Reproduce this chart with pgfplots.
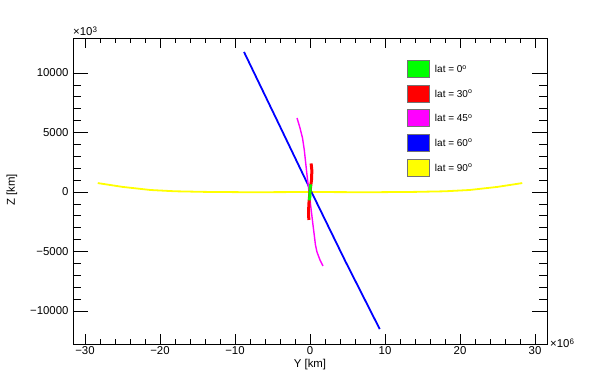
\documentclass[border=0pt]{standalone}
\usepackage{fontspec}
\setmainfont{Liberation Sans}
\usepackage{pgfplots}
\pgfplotsset{compat=1.18}
\definecolor{rgreen}{RGB}{0,255,0}
\definecolor{rred}{RGB}{255,0,0}
\definecolor{rmag}{RGB}{255,0,255}
\definecolor{rblue}{RGB}{0,0,255}
\definecolor{ryellow}{RGB}{255,255,0}
\pgfplotsset{
  rootframe/.style={
    at={(73pt,38pt)}, anchor=south west,
    scale only axis, width=474pt, height=306pt,
    xmin=-31.6, xmax=31.6, ymin=-12770, ymax=12940,
    scaled ticks=false,
    tick align=inside,
    axis line style={line width=0.8pt},
    tick style={line width=0.7pt, black},
    ticklabel style={font=\fontsize{11.4}{13}\selectfont},
  }
}
\begin{document}
\begin{tikzpicture}[x=1pt,y=1pt]
\useasboundingbox (0,0) rectangle (590,382);
% y ticks (longer tick marks)
\begin{axis}[rootframe,
  xtick=\empty,
  ytick={-10000,-5000,0,5000,10000},
  yticklabels={−10000,−5000,0,5000,10000},
  minor y tick num=4,
  major tick length=15pt, minor tick length=8pt,
  yticklabel style={xshift=-1pt},
]
\end{axis}
% data, x ticks, legend
\begin{axis}[rootframe,
  ytick=\empty,
  xtick={-30,-20,-10,0,10,20,30},
  xticklabels={−30,−20,−10,0,10,20,30},
  minor x tick num=4,
  major tick length=10pt, minor tick length=5pt,
  xticklabel style={yshift=1pt},
  legend image code/.code={\draw[#1, draw=black!55, line width=0.6pt] (0pt,-8.5pt) rectangle (22pt,8.5pt);},
  legend style={at={(axis description cs:0.705,0.928)}, anchor=north west,
    draw=none, fill=none, inner sep=0pt, row sep=7pt,
    font=\fontsize{10}{12}\selectfont,
    nodes={inner sep=0pt, text depth=0pt}},
  legend cell align=left,
]
\addlegendimage{fill=rgreen}
\addlegendentry{\hspace{5pt}lat = 0\textsuperscript{o}}
\addlegendimage{fill=rred}
\addlegendentry{\hspace{5pt}lat = 30\textsuperscript{o}}
\addlegendimage{fill=rmag}
\addlegendentry{\hspace{5pt}lat = 45\textsuperscript{o}}
\addlegendimage{fill=rblue}
\addlegendentry{\hspace{5pt}lat = 60\textsuperscript{o}}
\addlegendimage{fill=ryellow}
\addlegendentry{\hspace{5pt}lat = 90\textsuperscript{o}}

% lat = 90
\addplot[ryellow, line width=1.8pt, forget plot] coordinates {
  (-28.3,750) (-25,430) (-21.3,170) (-18,60) (-14,10) (-8,-20) (0,0)
  (8,-20) (14,10) (18,60) (21.3,170) (25,430) (28.3,750)
};
% lat = 60
\addplot[rblue, line width=1.8pt, forget plot] coordinates {
  (-8.8,11770) (-4.3,5900) (0.2,0) (4.7,-5800) (9.3,-11520)
};
% lat = 45
\addplot[rmag, line width=1.4pt, forget plot] coordinates {
  (-1.73,6216) (-1.33,5376) (-1.0,4536) (-0.76,3528) (-0.4,1428) (0,-672)
  (0.4,-2772) (0.73,-4452) (0.93,-5040) (1.33,-5712) (1.73,-6216)
};
% lat = 30
\addplot[rred, line width=3pt, forget plot] coordinates {
  (0.15,2400) (0.25,1800) (0.2,1000) (0.05,300) (-0.05,-300)
  (-0.15,-1000) (-0.2,-1800) (-0.15,-2350)
};
% lat = 0
\addplot[rgreen, line width=3pt, forget plot] coordinates {
  (0.05,650) (0,0) (-0.05,-700)
};
\end{axis}
\node[font=\fontsize{11.4}{13}\selectfont] at (310,17) {Y [km]};
\node[font=\fontsize{11.4}{13}\selectfont, rotate=90] at (12,192) {Z [km]};
\node[font=\fontsize{11.4}{13}\selectfont, anchor=base west, inner sep=0pt] at (73,346) {×10\textsuperscript{3}};
\node[font=\fontsize{11.4}{13}\selectfont, anchor=base west, inner sep=0pt] at (550,34) {×10\textsuperscript{6}};
\end{tikzpicture}
\end{document}
